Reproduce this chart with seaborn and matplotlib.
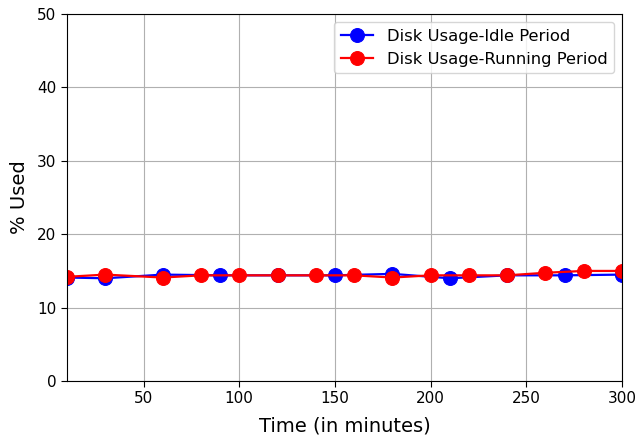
import matplotlib
matplotlib.use("Agg")
import matplotlib.pyplot as plt
import seaborn as sns
import pandas as pd

idle_time = [10, 30, 60, 90, 120, 150, 180, 210, 240, 270, 300]
idle_usage = [14.1, 14.0, 14.5, 14.4, 14.4, 14.4, 14.6, 14.0, 14.4, 14.4, 14.5]

run_time = [10, 30, 60, 80, 100, 120, 140, 160, 180, 200, 220, 240, 260, 280, 300]
run_usage = [14.2, 14.5, 14.1, 14.4, 14.4, 14.4, 14.4, 14.4, 14.1, 14.4, 14.4, 14.4, 14.75, 15.0, 15.0]

idle_df = pd.DataFrame({"time": idle_time, "usage": idle_usage})
run_df = pd.DataFrame({"time": run_time, "usage": run_usage})

fig = plt.figure(figsize=(6.38, 4.36), dpi=100)
ax = fig.add_axes([0.105, 0.126, 0.87, 0.842])

sns.lineplot(data=idle_df, x="time", y="usage", ax=ax, color="blue", marker="o",
             markersize=10, markeredgecolor="blue", linewidth=1.6,
             label="Disk Usage-Idle Period")
sns.lineplot(data=run_df, x="time", y="usage", ax=ax, color="red", marker="o",
             markersize=10, markeredgecolor="red", linewidth=1.6,
             label="Disk Usage-Running Period")

ax.set_xlim(10, 300)
ax.set_ylim(0, 50)
ax.set_xticks([50, 100, 150, 200, 250, 300])
ax.set_yticks([0, 10, 20, 30, 40, 50])
ax.tick_params(labelsize=11, length=4)
ax.grid(True)
ax.set_xlabel("Time (in minutes)", fontsize=14, labelpad=7)
ax.set_ylabel("% Used", fontsize=14, labelpad=6)
ax.legend(loc="upper right", fontsize=11.8)

fig.savefig("out.png", dpi=100)
